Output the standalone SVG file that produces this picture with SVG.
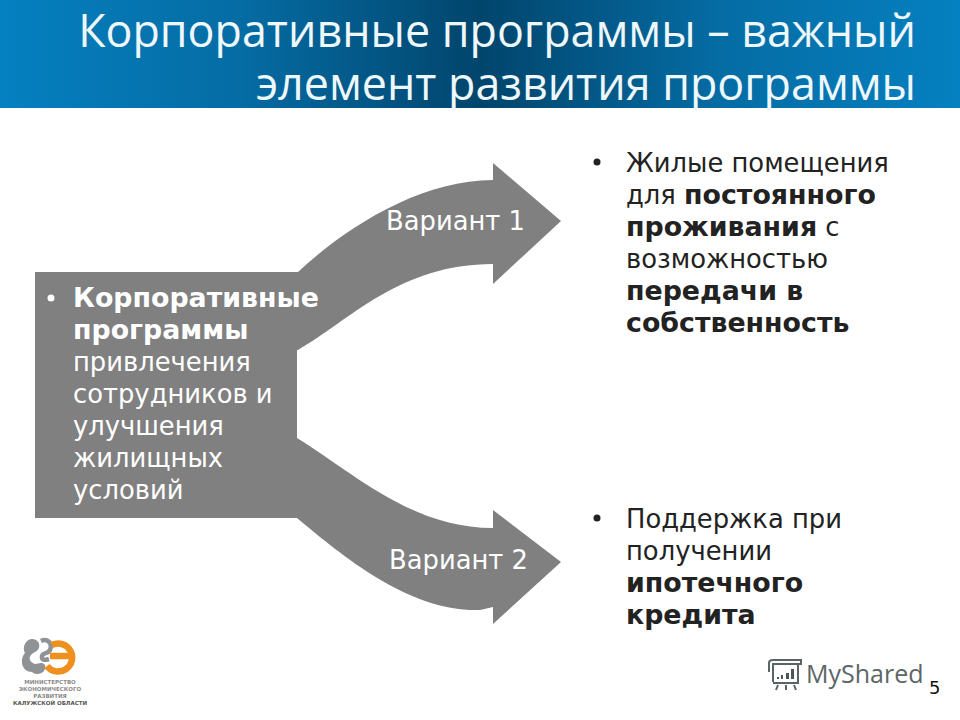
<svg xmlns="http://www.w3.org/2000/svg" width="960" height="720" viewBox="0 0 960 720">
<style>
text{font-family:"DejaVu Sans","Liberation Sans",sans-serif}
.t{font-size:44.8px;fill:#eef7fa;text-anchor:end;font-family:"Open Sans","DejaVu Sans",sans-serif}
.w{font-size:25.8px;fill:#fff}
.k{font-size:25.8px;fill:#222}
.b{font-weight:bold;font-size:26.8px}
.g{fill:#808080}
.lg{font-size:5.5px;font-weight:bold;fill:#8a8a8a;text-anchor:middle}
</style>
<defs>
<linearGradient id="h" x1="0" x2="1" y1="0" y2="0">
<stop offset="0" stop-color="#0580c0"/>
<stop offset=".25" stop-color="#056ca4"/>
<stop offset=".5" stop-color="#01456c"/>
<stop offset=".75" stop-color="#056ca4"/>
<stop offset="1" stop-color="#0580c0"/>
</linearGradient>
</defs>
<rect id="header" width="960" height="108" fill="url(#h)"/>
<g id="title">
<text class="t" x="916" y="47">Корпоративные программы – важный</text>
<text class="t" x="916" y="100">элемент развития программы</text>
</g>
<g id="connectors">
<path id="arrow1" class="g" d="M290 272H298C345 228 420 180 493 180V163L561 221L493 284V264C400 264 350 320 298 350H290Z"/>
<path id="arrow2" class="g" d="M290 438H297C350 470 410 528 493 528V510L561 562L493 624V607L480 610C410 612 345 558 297 518H290Z"/>
</g>
<g id="source">
<rect class="g" x="35" y="272" width="262" height="246"/>
<circle cx="51" cy="298" r="3.5" fill="#fff"/>
<text class="w b" x="73" y="307">Корпоративные</text>
<text class="w b" x="73" y="339">программы</text>
<text class="w" x="73" y="371">привлечения</text>
<text class="w" x="73" y="403">сотрудников и</text>
<text class="w" x="73" y="435">улучшения</text>
<text class="w" x="73" y="467">жилищных</text>
<text class="w" x="73" y="499">условий</text>
</g>
<g id="v1"><text class="w" x="386" y="230">Вариант 1</text></g>
<g id="v2"><text class="w" x="389" y="569">Вариант 2</text></g>
<g id="list1">
<circle cx="597" cy="162" r="3.5" fill="#222"/>
<text class="k" x="626" y="172">Жилые помещения</text>
<text class="k" x="626" y="204">для <tspan class="b">постоянного</tspan></text>
<text class="k" x="626" y="236"><tspan class="b">проживания</tspan> с</text>
<text class="k" x="626" y="268">возможностью</text>
<text class="k b" x="626" y="300">передачи в</text>
<text class="k b" x="626" y="332">собственность</text>
</g>
<g id="list2">
<circle cx="597" cy="518" r="3.5" fill="#222"/>
<text class="k" x="626" y="528">Поддержка при</text>
<text class="k" x="626" y="560">получении</text>
<text class="k b" x="626" y="592">ипотечного</text>
<text class="k b" x="626" y="624">кредита</text>
</g>
<g id="logo">
<path d="M36 640C28 636 21 646 25 653C19 660 22 672 32 672C38 677 47 672 45 665C41 660 36 666 33 663C27 660 30 654 35 652C40 650 41 643 36 640Z" fill="#8f9396"/>
<path d="M41 641C47 638 53 643 50 650C47 655 43 652 42 656C41 661 46 660 49 659" fill="none" stroke="#8f9396" stroke-width="4.5"/>
<path d="M52 645A14 14 0 1 1 47 666M50 656H72" fill="none" stroke="#ee8f1e" stroke-width="6.5"/>
<text class="lg" x="50" y="684">МИНИСТЕРСТВО</text>
<text class="lg" x="50" y="691">ЭКОНОМИЧЕСКОГО</text>
<text class="lg" x="50" y="698">РАЗВИТИЯ</text>
<text class="lg" x="50" y="705" style="fill:#555">КАЛУЖСКОЙ ОБЛАСТИ</text>
</g>
<g id="watermark">
<g fill="none" stroke="#5a6464" stroke-width="2">
<path d="M769 672V663Q769 660 773 660H801V664H773V682M773 664H798V683H773"/>
<path d="M778 685L776 690M786 685V690M794 685L796 690"/>
</g>
<path d="M777 679h2v-2h-2zM781 679h2v-4h-2zM786 679h3v-6h-3zM791 679h3v-10h-3z" fill="#4c5656"/>
<text x="806" y="683" font-size="25" fill="#5c6666" style="font-family:'Open Sans',sans-serif">MyShared</text>
</g>
<text id="page" x="929" y="694" font-size="18" fill="#111">5</text>
</svg>
